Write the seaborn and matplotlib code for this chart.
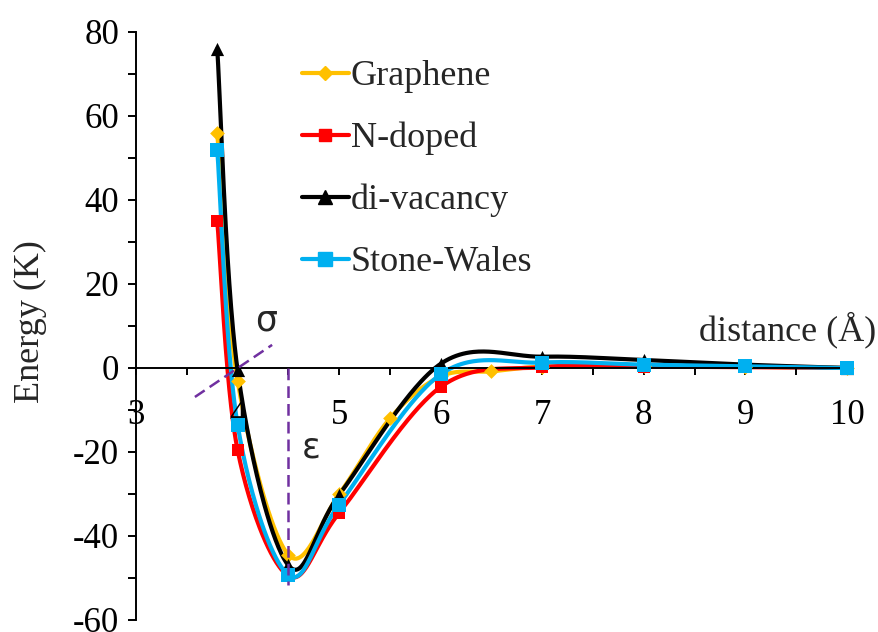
import numpy as np
import pandas as pd
import seaborn as sns
import matplotlib.pyplot as plt
from matplotlib.lines import Line2D

# values: distance (Å) vs energy (K)
graphene_x = [3.8, 4.0, 4.5, 5.0, 5.5, 6.0, 6.5, 7.0, 8.0, 9.0, 10.0]
graphene_y = [56, -3, -44.5, -30, -12, -2, -0.8, 0.3, 0.5, 0.3, 0]

ndoped_x = [3.8, 4.0, 4.5, 5.0, 6.0, 7.0, 8.0, 9.0, 10.0]
ndoped_y = [35, -19.5, -49.5, -34.5, -4.5, 0.2, 0.3, 0.2, 0]

divac_x = [3.8, 4.0, 4.5, 5.0, 6.0, 7.0, 8.0, 9.0, 10.0]
divac_y = [76, -0.5, -47, -30.2, 1.0, 2.7, 1.9, 0.8, 0]

sw_x = [3.8, 4.0, 4.5, 5.0, 6.0, 7.0, 8.0, 9.0, 10.0]
sw_y = [52, -13.5, -49.3, -32.5, -1.5, 1.3, 0.8, 0.4, 0]

names = ["Graphene", "N-doped", "di-vacancy", "Stone-Wales"]
colors = ["#FFC000", "#FF0000", "#000000", "#00B0F0"]
markers = ["D", "s", "^", "s"]
msizes = [7.5, 8, 9.5, 10]

# guide lines for sigma / epsilon
sigma_line_x = [3.58, 4.34]
sigma_line_y = [-6.9, 5.5]
eps_line_x = [4.5, 4.5]
eps_line_y = [0, -51.7]


def excel_smooth(xs, ys, n=60):
    # bezier smoothing like Excel's "smoothed line" option
    p = np.column_stack([xs, ys]).astype(float)
    pe = np.vstack([p[0], p, p[-1]])
    t = np.linspace(0, 1, n)[:, None]
    out = []
    for i in range(len(p) - 1):
        p0, p3 = p[i], p[i + 1]
        c1 = p0 + (p[i + 1] - pe[i]) / 6
        c2 = p3 - (pe[i + 3] - p[i]) / 6
        seg = (1 - t) ** 3 * p0 + 3 * (1 - t) ** 2 * t * c1 + 3 * (1 - t) * t ** 2 * c2 + t ** 3 * p3
        out.append(seg if i == 0 else seg[1:])
    return np.vstack(out)


sns.set_style("ticks")
plt.rcParams["font.family"] = ["Liberation Serif", "DejaVu Sans"]
plt.rcParams["axes.unicode_minus"] = False
plt.rcParams["xtick.major.size"] = 5
plt.rcParams["xtick.minor.size"] = 5
plt.rcParams["ytick.major.size"] = 6
plt.rcParams["ytick.minor.size"] = 6

fig = plt.figure(figsize=(8.79, 6.32), dpi=100)
ax = fig.add_axes([136 / 879, 12 / 632, 711 / 879, 588 / 632])

series = [(graphene_x, graphene_y), (ndoped_x, ndoped_y), (divac_x, divac_y), (sw_x, sw_y)]
for (xs, ys), name, c, m, ms in zip(series, names, colors, markers, msizes):
    curve = excel_smooth(xs, ys)
    df = pd.DataFrame({"x": curve[:, 0], "y": curve[:, 1]})
    sns.lineplot(data=df, x="x", y="y", sort=False, estimator=None,
                 color=c, lw=3, ax=ax)
    sns.scatterplot(x=xs, y=ys, marker=m, s=ms ** 2, color=c,
                    linewidth=0, ax=ax, zorder=3)

ax.plot(sigma_line_x, sigma_line_y, color="#7030A0", lw=1.8, dashes=(4.7, 2.4), zorder=4)
ax.plot(eps_line_x, eps_line_y, color="#7030A0", lw=1.8, dashes=(4.7, 2.4), zorder=4)

ax.text(4.28, 11.4, "σ", family="DejaVu Sans", fontsize=25, ha="center", va="center")
ax.text(4.72, -19, "ε", family="DejaVu Sans", fontsize=25, ha="center", va="center")

for a in ax.lines + ax.collections:
    a.set_clip_on(False)

ax.set_xlim(3, 10)
ax.set_ylim(-60, 80)
ax.spines["left"].set_position(("data", 3))
ax.spines["bottom"].set_position(("data", 0))
ax.spines["top"].set_visible(False)
ax.spines["right"].set_visible(False)
for s in ["left", "bottom"]:
    ax.spines[s].set_linewidth(1.4)
    ax.spines[s].set_color("black")

ax.set_xticks(range(3, 11))
ax.set_xticks(np.arange(3, 10.01, 0.5), minor=True)
ax.set_yticks(range(-60, 81, 20))
ax.set_yticks(range(-60, 81, 10), minor=True)
ax.tick_params(axis="x", which="both", bottom=True, direction="out", length=5,
               width=1.4, pad=17, labelsize=25, color="black", labelcolor="black")
ax.tick_params(axis="y", which="both", left=True, direction="out", length=6,
               width=1.4, pad=6, labelsize=25, color="black", labelcolor="black")
ax.tick_params(which="minor", labelbottom=False, labelleft=False)
ax.xaxis.set_zorder(2.6)
ax.set_xlabel("")
ax.set_ylabel("")

fig.text(876 / 879, 1 - 330 / 632, "distance (Å)", fontsize=26, ha="right", va="center")
fig.text(30 / 879, 1 - 322 / 632, "Energy (K)", fontsize=26, rotation=90, ha="center", va="center")

handles = [Line2D([], [], color=c, lw=3, marker=m, markersize=ms)
           for c, m, ms in zip(colors, markers, msizes)]
fig.legend(handles, names, loc="upper left", bbox_to_anchor=(302 / 879, 1 - 60 / 632),
           frameon=False, fontsize=26, borderpad=0, borderaxespad=0,
           handlelength=1.3, handletextpad=0.05, labelspacing=0.79)

fig.savefig("out.png", dpi=100)
